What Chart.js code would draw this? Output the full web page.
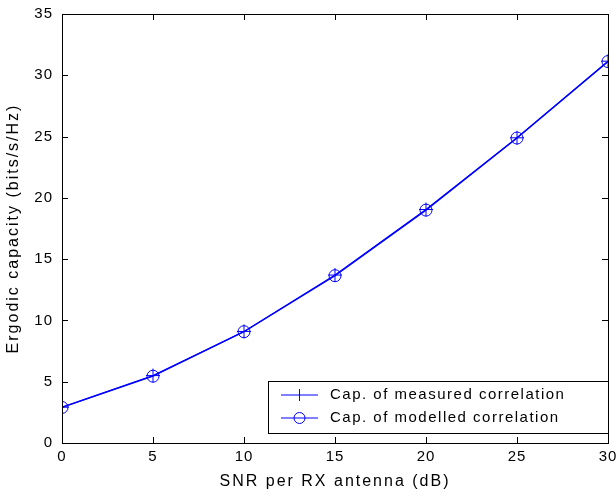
<!DOCTYPE html>
<html>
<head>
<meta charset="utf-8">
<script src="https://cdn.jsdelivr.net/npm/chart.js@4"></script>
<style>
  html, body { margin: 0; padding: 0; background: #fff; }
  #wrap { width: 616px; height: 497px; }
</style>
</head>
<body>
<div id="wrap"><canvas id="cap"></canvas></div>
<script>
const snr = [0, 5, 10, 15, 20, 25, 30];
const measured = [2.92, 5.50, 9.10, 13.70, 19.05, 24.90, 31.15];
const modelled = [2.90, 5.45, 9.08, 13.65, 19.00, 24.88, 31.12];
const seriesNames = ['Cap. of measured correlation', 'Cap. of modelled correlation'];
const xTitle = 'SNR per RX antenna (dB)';
const yTitle = 'Ergodic capacity (bits/s/Hz)';

const blue = 'rgb(0,0,255)';
const font = 'Liberation Sans, Arial, Helvetica, sans-serif';

function spacing(ctx, v) {
  if ('letterSpacing' in ctx) ctx.letterSpacing = v;
}

// inward ticks, box frame, axis titles and the legend inside the axes
const frame = {
  id: 'frame',
  beforeDraw(chart) { spacing(chart.ctx, '1px'); },
  afterDraw(chart) {
    const ctx = chart.ctx;
    const a = chart.chartArea;
    const xs = chart.scales.x, ys = chart.scales.y;
    ctx.save();
    ctx.strokeStyle = '#000';
    ctx.lineWidth = 1;
    ctx.strokeRect(a.left + 0.5, a.top + 0.5, a.right - a.left, a.bottom - a.top);
    ctx.beginPath();
    xs.ticks.forEach(t => {
      const px = Math.round(xs.getPixelForValue(t.value)) + 0.5;
      ctx.moveTo(px, a.bottom); ctx.lineTo(px, a.bottom - 6);
      ctx.moveTo(px, a.top); ctx.lineTo(px, a.top + 6);
    });
    ys.ticks.forEach(t => {
      const py = Math.round(ys.getPixelForValue(t.value)) + 0.5;
      ctx.moveTo(a.left, py); ctx.lineTo(a.left + 6, py);
      ctx.moveTo(a.right, py); ctx.lineTo(a.right - 6, py);
    });
    ctx.stroke();

    // axis titles
    ctx.fillStyle = '#000';
    ctx.font = '16px ' + font;
    ctx.textAlign = 'center';
    ctx.textBaseline = 'middle';
    spacing(ctx, '2px');
    ctx.fillText(xTitle, (a.left + a.right) / 2, 482);
    ctx.save();
    ctx.translate(14, (a.top + a.bottom) / 2);
    ctx.rotate(-Math.PI / 2);
    ctx.fillText(yTitle, 0, 0);
    ctx.restore();

    // legend
    const bx = 268, by = 381, bw = 340, bh = 52;
    ctx.fillStyle = '#fff';
    ctx.fillRect(bx, by, bw, bh);
    ctx.strokeStyle = '#000';
    ctx.strokeRect(bx + 0.5, by + 0.5, bw, bh);
    ctx.font = '15px ' + font;
    ctx.textAlign = 'left';
    spacing(ctx, '1.5px');
    const rows = [by + 14, by + 37];
    rows.forEach((ry, i) => {
      ctx.strokeStyle = blue;
      ctx.beginPath();
      ctx.moveTo(281, ry); ctx.lineTo(318, ry);
      if (i === 0) {
        ctx.moveTo(299.5, ry - 6); ctx.lineTo(299.5, ry + 6);
      }
      ctx.stroke();
      if (i === 1) {
        ctx.beginPath();
        ctx.arc(299.5, ry, 5.5, 0, Math.PI * 2);
        ctx.stroke();
      }
      ctx.fillStyle = '#000';
      ctx.fillText(seriesNames[i], 330, ry);
    });
    spacing(ctx, '0px');
    ctx.restore();
  }
};

new Chart(document.getElementById('cap'), {
  type: 'line',
  data: {
    datasets: [{
      label: seriesNames[0],
      data: snr.map((s, i) => ({ x: s, y: measured[i] })),
      borderColor: blue,
      backgroundColor: 'transparent',
      borderWidth: 1.3,
      pointStyle: 'cross',
      pointRadius: 7,
      pointBorderColor: blue,
      pointBorderWidth: 1
    }, {
      label: seriesNames[1],
      data: snr.map((s, i) => ({ x: s, y: modelled[i] })),
      borderColor: blue,
      backgroundColor: 'transparent',
      borderWidth: 1.3,
      pointStyle: 'circle',
      pointRadius: 6,
      pointBackgroundColor: 'transparent',
      pointBorderColor: blue,
      pointBorderWidth: 1
    }]
  },
  options: {
    responsive: true,
    maintainAspectRatio: false,
    animation: false,
    layout: { padding: { top: 14, right: 6, left: 0, bottom: 0 } },
    plugins: {
      legend: { display: false },
      tooltip: { enabled: false }
    },
    scales: {
      x: {
        type: 'linear',
        min: 0, max: 30,
        ticks: { stepSize: 5, color: '#000', font: { family: font, size: 15 }, padding: 5 },
        grid: { display: true, drawOnChartArea: false, drawTicks: false },
        border: { display: true, color: '#000' },
        afterFit(s) { s.height = 54; s.paddingLeft = 0; s.paddingRight = 0; }
      },
      y: {
        min: 0, max: 35,
        ticks: { stepSize: 5, color: '#000', font: { family: font, size: 15 }, padding: 9 },
        grid: { display: true, drawOnChartArea: false, drawTicks: false },
        border: { display: true, color: '#000' },
        afterFit(s) { s.width = 62; s.paddingTop = 0; s.paddingBottom = 0; }
      }
    }
  },
  plugins: [frame]
});
</script>
</body>
</html>
